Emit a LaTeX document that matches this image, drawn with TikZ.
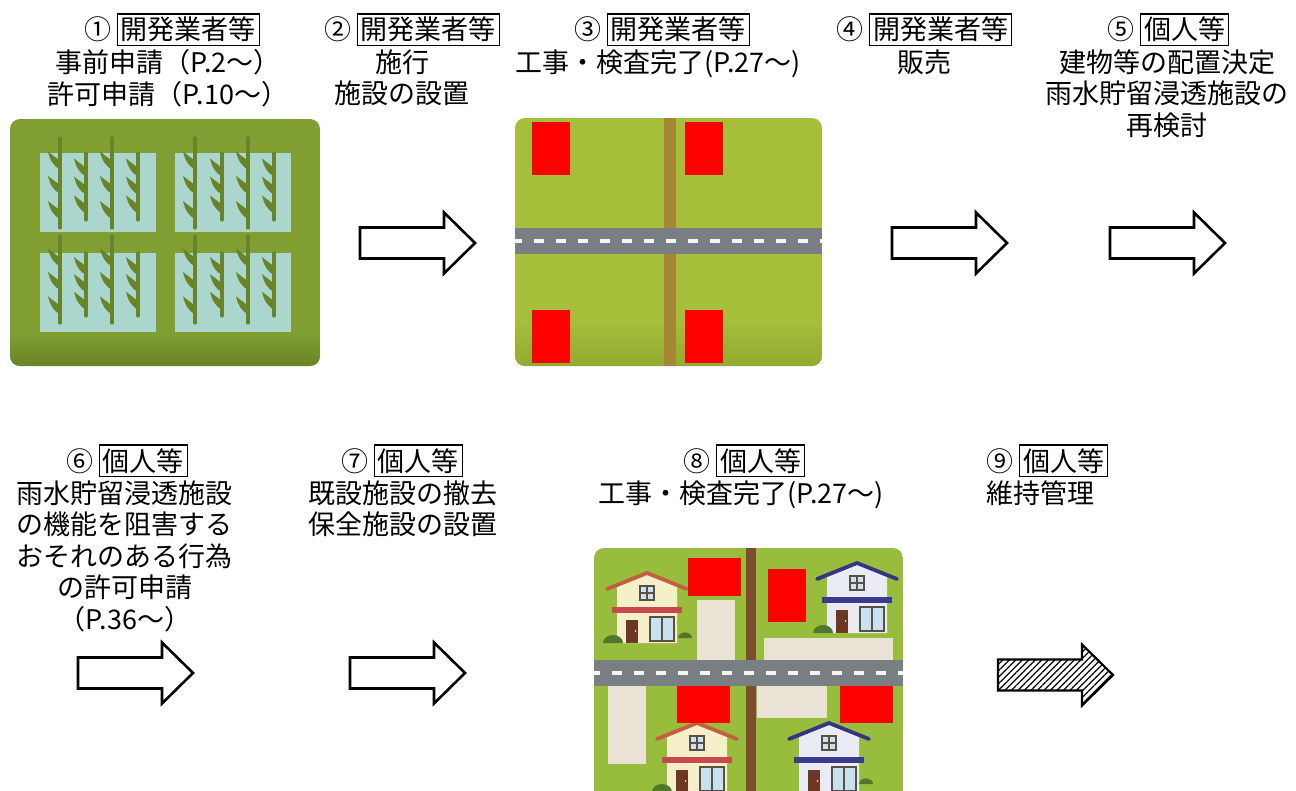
\documentclass[tikz,border=0pt]{standalone}
\usepackage{fontspec}
\setmainfont{Noto Sans CJK JP}
\usetikzlibrary{patterns.meta}

\definecolor{oliveA}{RGB}{128,158,50}
\definecolor{oliveB}{RGB}{104,132,38}
\definecolor{paddy}{RGB}{170,214,206}
\definecolor{plantc}{RGB}{104,132,40}
\definecolor{lawnA}{RGB}{165,191,58}
\definecolor{lawnB}{RGB}{146,170,48}
\definecolor{asphalt}{RGB}{121,127,131}
\definecolor{ditchA}{RGB}{166,136,52}
\definecolor{lawnC}{RGB}{152,189,60}
\definecolor{ditchB}{RGB}{124,78,46}
\definecolor{lot}{RGB}{234,226,212}
\definecolor{plotred}{RGB}{255,0,0}
\definecolor{roofR}{RGB}{196,94,62}
\definecolor{bandR}{RGB}{200,72,76}
\definecolor{wallR}{RGB}{245,240,202}
\definecolor{roofB}{RGB}{54,52,132}
\definecolor{bandB}{RGB}{60,58,142}
\definecolor{wallB}{RGB}{233,236,245}
\definecolor{frame}{RGB}{92,78,66}
\definecolor{glass}{RGB}{200,226,240}
\definecolor{doorc}{RGB}{108,56,36}
\definecolor{bush}{RGB}{80,120,44}

\newcommand\whobox[1]{{\setlength\fboxsep{1.3pt}\setlength\fboxrule{0.55pt}\fbox{#1}}}

% rice plant: x, top, bottom
\newcommand\riceplant[3]{%
  \draw[plantc, line width=1.6pt, line cap=round] (#1,#2) -- (#1,#3);
  \foreach \f in {0.35,0.62,0.9}{%
    \pgfmathsetmacro\yy{#2+\f*(#3-#2)}
    \fill[plantc] (#1,\yy) .. controls (#1-6,\yy-3) and (#1-10,\yy-9) .. (#1-12,\yy-18)
      .. controls (#1-6,\yy-13) and (#1-1,\yy-10) .. (#1,\yy-8) -- cycle;
  }}

% house: apex x, apex y, roof, band, wall
\newcommand\house[5]{%
  \begin{scope}[shift={(#1,#2)}]
    \fill[#5] (-30,70) -- (-30,14) -- (0,1) -- (30,14) -- (30,70) -- cycle;
    \draw[#3, line width=1.9pt, line cap=round, line join=round] (-40,16) -- (0,0) -- (40,16);
    \fill[#4] (-35,34) rectangle (35,40);
    \draw[frame, line width=0.9pt, fill=glass] (-7,13) rectangle (7,27);
    \draw[frame, line width=0.6pt] (0,13) -- (0,27) (-7,20) -- (7,20);
    \fill[doorc] (-21,47) rectangle (-9,70);
    \fill[wallR!60!white] (-11.5,58) circle (0.8);
    \draw[frame, line width=1pt, fill=glass] (3,44) rectangle (27,68);
    \draw[frame, line width=0.8pt] (15,44) -- (15,68);
  \end{scope}}

\newcommand\shrub[3]{% centre x, ground y, half width
  \fill[bush] (#1-#3,#2) arc[start angle=180, end angle=360, x radius=#3, y radius=0.8*#3] -- cycle;}

\tikzset{
  lbl/.style={font=\fontsize{13.5}{15.75}\selectfont, inner sep=0pt, align=center},
  head/.style={lbl, anchor=base},
  body/.style={lbl, anchor=north},
  blockarrow/.pic={
    \path[pic actions] (0,-15.5) -- (84,-15.5) -- (84,-30.5) -- (115,0)
      -- (84,30.5) -- (84,15.5) -- (0,15.5) -- cycle;},
  plainarrow/.style={draw=black, line width=1.3pt, line join=miter, fill=white},
  hatcharrow/.style={draw=black, line width=1.1pt, line join=miter,
    pattern={Lines[angle=45, distance=2.3pt, line width=0.6pt]}}
}

\begin{document}
\begin{tikzpicture}[x=0.5pt, y=-0.5pt]
\useasboundingbox (0,0) rectangle (1296,791);

% ---------- step labels ----------
\node[head] (t1h) at (172,40) {①\hspace{3pt}\whobox{開発業者等}};
\node[body] (t1b) at (168,49) {事前申請（P.2～）\\許可申請（P.10～）};
\node[head] (t2h) at (412,40) {②\hspace{3pt}\whobox{開発業者等}};
\node[body] (t2b) at (402,49) {施行\\施設の設置};
\node[head] (t3h) at (662,40) {③\hspace{3pt}\whobox{開発業者等}};
\node[body] (t3b) at (658,49) {工事・検査完了(P.27～)};
\node[head] (t4h) at (924,40) {④\hspace{3pt}\whobox{開発業者等}};
\node[body] (t4b) at (924,49) {販売};
\node[head] (t5h) at (1168,40) {⑤\hspace{3pt}\whobox{個人等}};
\node[body] (t5b) at (1167,49) {建物等の配置決定\\雨水貯留浸透施設の\\再検討};

\node[head] (t6h) at (127,471) {⑥\hspace{3pt}\whobox{個人等}};
\node[body] (t6b) at (125,480) {雨水貯留浸透施設\\の機能を阻害する\\おそれのある行為\\の許可申請\\（P.36～）};
\node[head] (t7h) at (402,471) {⑦\hspace{3pt}\whobox{個人等}};
\node[body] (t7b) at (403,480) {既設施設の撤去\\保全施設の設置};
\node[head] (t8h) at (744,471) {⑧\hspace{3pt}\whobox{個人等}};
\node[body] (t8b) at (741,480) {工事・検査完了(P.27～)};
\node[head] (t9h) at (1047,471) {⑨\hspace{3pt}\whobox{個人等}};
\node[body] (t9b) at (1040,480) {維持管理};

% ---------- block arrows ----------
\pic[plainarrow] at (360,243) {blockarrow};
\pic[plainarrow] at (892,243) {blockarrow};
\pic[plainarrow] at (1110,243) {blockarrow};
\pic[plainarrow] at (78,673) {blockarrow};
\pic[plainarrow] at (350,673) {blockarrow};
\pic[hatcharrow] at (998,675) {blockarrow};

% ---------- paddy fields ----------
\begin{scope}
  \clip[rounded corners=5] (10,119) rectangle (320,366);
  \fill[oliveA] (10,119) rectangle (320,366);
  \shade[top color=oliveA, bottom color=oliveB] (10,334) rectangle (320,366);
  \foreach \px/\py in {40/153, 175/153, 40/253, 175/253}
    \fill[paddy] (\px,\py) rectangle (\px+116,\py+79);
  \foreach \cx in {60,112,195,248}{
    \riceplant{\cx}{138}{228}
    \riceplant{\cx}{236}{323}}
  \foreach \cx in {86,138,222,274}{
    \riceplant{\cx}{153}{220}
    \riceplant{\cx}{253}{316}}
\end{scope}

% ---------- developed lots ----------
\begin{scope}
  \clip[rounded corners=5] (515,118) rectangle (822,366);
  \fill[lawnA] (515,118) rectangle (822,366);
  \shade[top color=lawnA, bottom color=lawnB] (515,320) rectangle (822,366);
  \fill[ditchA] (664,118) rectangle (676,366);
  \fill[asphalt] (515,228) rectangle (822,254);
  \draw[white!92!gray, line width=1.6pt, dash pattern=on 5pt off 6pt] (512,241) -- (822,241);
  \foreach \rx/\ry in {532/122, 685/122, 532/310, 685/310}
    \fill[plotred] (\rx,\ry) rectangle (\rx+38,\ry+53);
\end{scope}

% ---------- built-up lots ----------
\begin{scope}
  \clip[rounded corners=5] (594,548) rectangle (903,800);
  \fill[lawnC] (594,548) rectangle (903,800);
  \fill[ditchB] (746,548) rectangle (756,800);
  \fill[lot] (697,600) rectangle (735,660);
  \fill[lot] (764,638) rectangle (893,660);
  \fill[lot] (608,686) rectangle (646,764);
  \fill[lot] (757,686) rectangle (827,718);
  \fill[asphalt] (594,660) rectangle (903,686);
  \draw[white!92!gray, line width=1.6pt, dash pattern=on 5pt off 6pt] (590,673) -- (903,673);
  \house{647}{573}{roofR}{bandR}{wallR}
  \house{857}{563}{roofB}{bandB}{wallB}
  \house{697}{723}{roofR}{bandR}{wallR}
  \house{829}{723}{roofB}{bandB}{wallB}
  \shrub{613}{643}{10}
  \shrub{685}{638}{7}
  \shrub{823}{633}{10}
  \shrub{662}{792}{10}
  \shrub{866}{784}{7}
  \fill[plotred] (688,558) rectangle (741,596);
  \fill[plotred] (768,569) rectangle (806,622);
  \fill[plotred] (677,686) rectangle (730,723);
  \fill[plotred] (840,686) rectangle (893,723);
\end{scope}
\end{tikzpicture}
\end{document}
